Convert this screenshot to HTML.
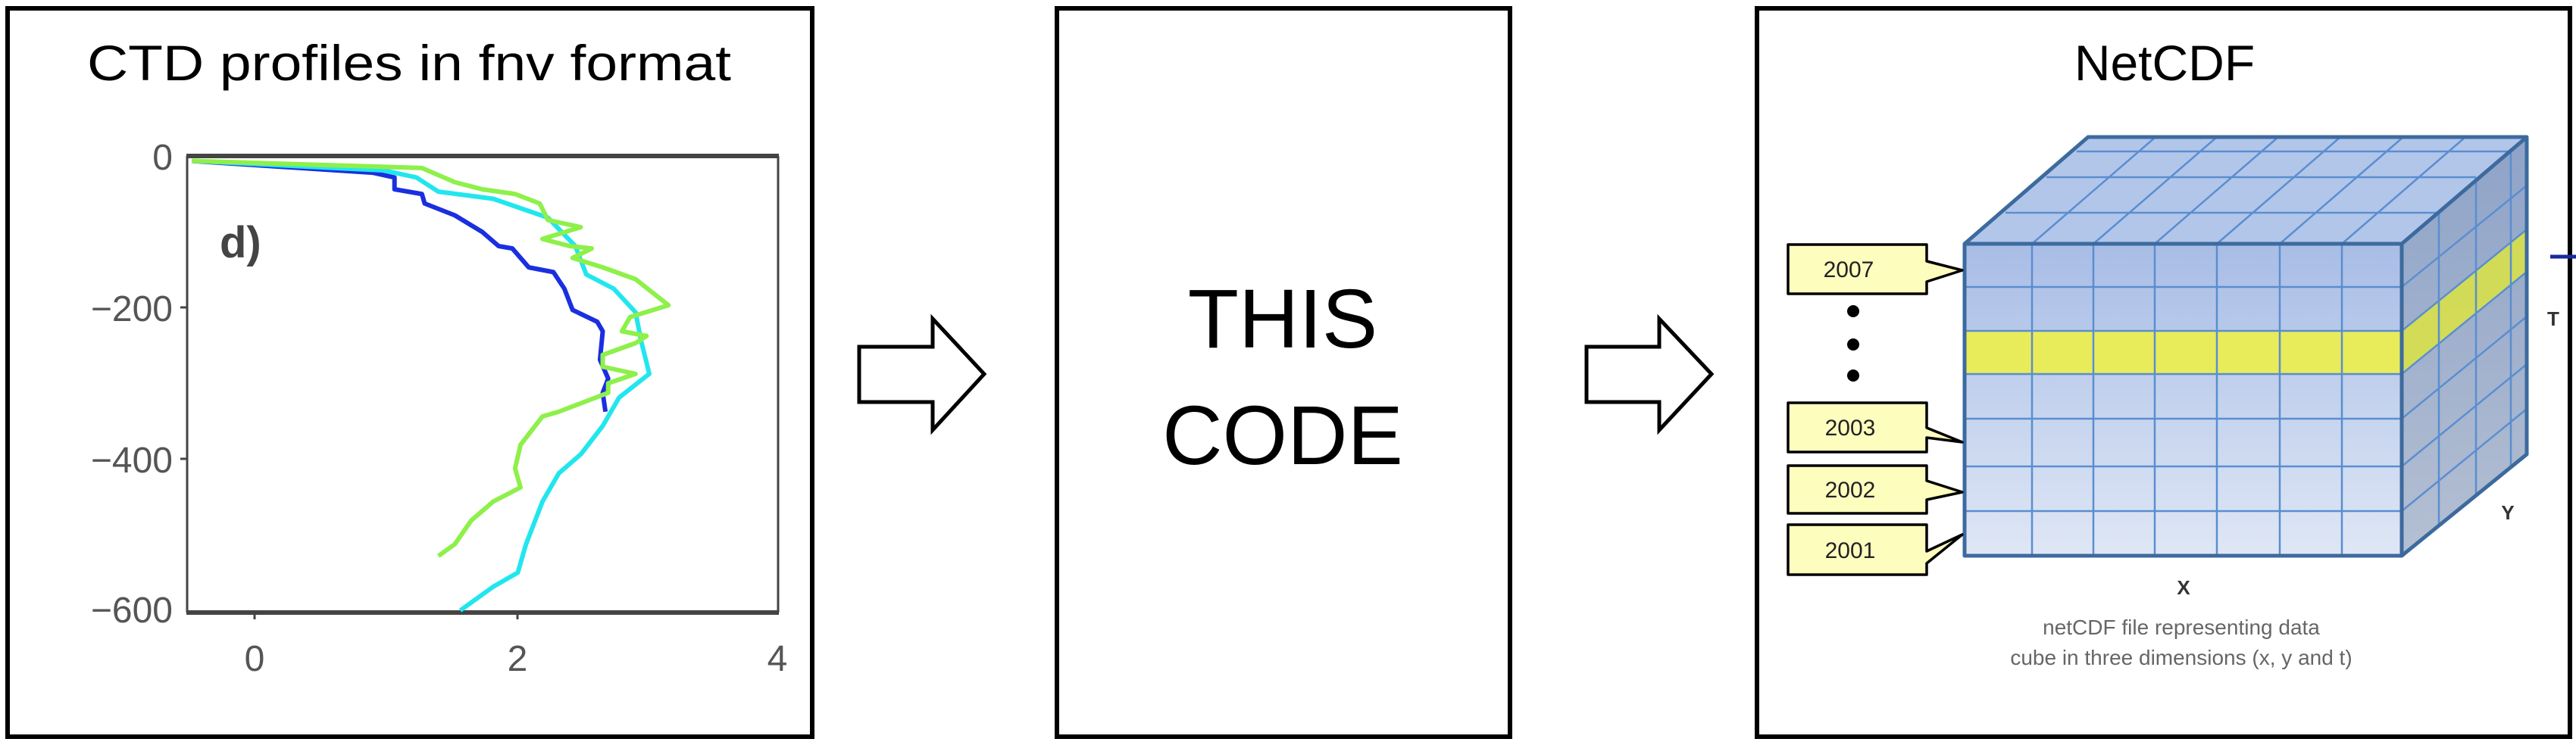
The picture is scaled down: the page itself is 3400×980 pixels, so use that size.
<!DOCTYPE html>
<html><head><meta charset="utf-8"><style>
html,body{margin:0;padding:0;background:#fff;}
svg{display:block;}
</style></head><body>
<svg width="3400" height="980" viewBox="0 0 3400 980" xmlns="http://www.w3.org/2000/svg">
<defs>
<linearGradient id="fg" x1="0" y1="0" x2="0" y2="1"><stop offset="0" stop-color="#a8bde6"/><stop offset="1" stop-color="#dfe7f5"/></linearGradient>
<linearGradient id="rg" x1="0" y1="0" x2="0" y2="1"><stop offset="0" stop-color="#8ea3c8"/><stop offset="1" stop-color="#b4bfd2"/></linearGradient>
</defs>
<rect width="3400" height="980" fill="#fff"/>
<rect x="10" y="11" width="1062" height="962" fill="none" stroke="#000" stroke-width="6"/>
<rect x="1395" y="11" width="598" height="962" fill="none" stroke="#000" stroke-width="6"/>
<rect x="2319" y="11" width="1073" height="962" fill="none" stroke="#000" stroke-width="6"/>
<polygon points="1134,458 1231,458 1231,421 1299,494 1231,568 1231,531 1134,531" fill="#fff" stroke="#000" stroke-width="5"/>
<polygon points="2094,458 2190,458 2190,421 2259,494 2190,568 2190,531 2094,531" fill="#fff" stroke="#000" stroke-width="5"/>
<g font-family="Liberation Sans, sans-serif" fill="#000">
<text x="540" y="106" font-size="66" text-anchor="middle" textLength="850" lengthAdjust="spacingAndGlyphs">CTD profiles in fnv format</text>
<text x="1693" y="459" font-size="110" text-anchor="middle">THIS</text>
<text x="1693" y="613" font-size="110" text-anchor="middle">CODE</text>
<text x="2857" y="106" font-size="66" text-anchor="middle">NetCDF</text>
</g>
<g stroke="#444">
<line x1="246" y1="206" x2="1028" y2="206" stroke-width="6"/>
<line x1="246" y1="809" x2="1028" y2="809" stroke-width="6"/>
<line x1="247" y1="206" x2="247" y2="809" stroke-width="3"/>
<line x1="1027" y1="206" x2="1027" y2="809" stroke-width="3"/>
<line x1="238" y1="406" x2="246" y2="406" stroke-width="3"/>
<line x1="238" y1="606" x2="246" y2="606" stroke-width="3"/>
<line x1="336" y1="809" x2="336" y2="818" stroke-width="3"/>
<line x1="683" y1="809" x2="683" y2="818" stroke-width="3"/>
</g>
<g font-family="Liberation Sans, sans-serif" font-size="48" fill="#555" text-anchor="end">
<text x="228" y="224">0</text><text x="228" y="424">−200</text><text x="228" y="624">−400</text><text x="228" y="822">−600</text>
</g>
<g font-family="Liberation Sans, sans-serif" font-size="48" fill="#555" text-anchor="middle">
<text x="336" y="886">0</text><text x="683" y="886">2</text><text x="1026" y="886">4</text>
</g>
<text x="290" y="340" font-family="Liberation Sans, sans-serif" font-size="58" font-weight="bold" fill="#444">d)</text>
<g transform="scale(0.7232,0.625)" fill="none" stroke-width="6" stroke-linejoin="round">
<polyline vector-effect="non-scaling-stroke" stroke="#1a2fe0" points="350,340 680,365 720,375 720,400 770,410 775,430 830,455 880,490 910,520 935,525 965,565 1010,575 1030,610 1045,655 1090,680 1100,700 1095,760 1110,800 1100,830 1105,870"/>
<polyline vector-effect="non-scaling-stroke" stroke="#22e6ee" points="350,340 700,360 760,375 800,405 900,420 1000,460 1050,520 1070,580 1120,610 1160,660 1170,720 1185,790 1130,840 1100,900 1060,960 1020,1000 990,1060 960,1150 945,1210 900,1240 840,1290"/>
<polyline vector-effect="non-scaling-stroke" stroke="#8ef04a" points="350,340 770,355 830,385 880,400 940,410 985,430 1000,465 1060,480 990,505 1040,520 1080,525 1045,545 1100,565 1160,590 1220,645 1150,670 1135,700 1180,710 1160,725 1100,750 1100,775 1160,790 1110,810 1110,830 1020,870 990,880 950,940 940,990 950,1030 900,1060 860,1100 830,1150 800,1175"/>
</g>
<polygon points="2593,322 2756,181 3335,181 3170,322" fill="#b2c6ea"/>
<polygon points="3170,322 3335,181 3335,600 3170,734" fill="url(#rg)"/>
<rect x="2593" y="322" width="577" height="412" fill="url(#fg)"/>
<rect x="2593" y="437" width="577" height="57" fill="#e8ec5a"/>
<polygon points="3170,437 3335,303 3335,359 3170,494" fill="#d8e04a" opacity="0.9"/>
<g stroke="#5a8ed0" stroke-width="2.5" fill="none">
<line x1="2682" y1="322" x2="2682" y2="734"/><line x1="2763" y1="322" x2="2763" y2="734"/><line x1="2844" y1="322" x2="2844" y2="734"/><line x1="2926" y1="322" x2="2926" y2="734"/><line x1="3009" y1="322" x2="3009" y2="734"/><line x1="3091" y1="322" x2="3091" y2="734"/>
<line x1="2593" y1="379" x2="3170" y2="379"/><line x1="2593" y1="437" x2="3170" y2="437"/><line x1="2593" y1="494" x2="3170" y2="494"/><line x1="2593" y1="553" x2="3170" y2="553"/><line x1="2593" y1="616" x2="3170" y2="616"/><line x1="2593" y1="675" x2="3170" y2="675"/>
<line x1="2682" y1="322" x2="2845" y2="181"/><line x1="2763" y1="322" x2="2926" y2="181"/><line x1="2844" y1="322" x2="3007" y2="181"/><line x1="2926" y1="322" x2="3089" y2="181"/><line x1="3009" y1="322" x2="3172" y2="181"/><line x1="3091" y1="322" x2="3254" y2="181"/>
<line x1="2647" y1="281" x2="3219" y2="281"/><line x1="2701" y1="234" x2="3268" y2="234"/><line x1="2741" y1="200" x2="3314" y2="200"/>
<line x1="3219" y1="281" x2="3219" y2="694"/><line x1="3268" y1="234" x2="3268" y2="655"/><line x1="3314" y1="200" x2="3314" y2="617"/>
<line x1="3170" y1="379" x2="3335" y2="245"/><line x1="3170" y1="437" x2="3335" y2="303"/><line x1="3170" y1="494" x2="3335" y2="359"/><line x1="3170" y1="553" x2="3335" y2="418"/><line x1="3170" y1="616" x2="3335" y2="481"/><line x1="3170" y1="675" x2="3335" y2="540"/>
</g>
<g stroke="#3d6a9e" stroke-width="5" fill="none" stroke-linejoin="round">
<rect x="2593" y="322" width="577" height="412"/>
<polyline points="2593,322 2756,181 3335,181 3335,600 3170,734"/>
<line x1="3170" y1="322" x2="3335" y2="181"/>
</g>
<g stroke="#000" stroke-width="3.5" fill="#fdfdbe" stroke-linejoin="round">
<path d="M2360,323 H2543 V345 L2590,357 L2543,372 V388 H2360 Z"/>
<path d="M2360,532 H2543 V565 L2590,584 L2543,578 V597 H2360 Z"/>
<path d="M2360,615 H2543 V635 L2590,650 L2543,660 V678 H2360 Z"/>
<path d="M2360,693 H2543 V728 L2590,706 L2543,744 V759 H2360 Z"/>
</g>
<g font-family="Liberation Sans, sans-serif" font-size="30" fill="#222" text-anchor="middle">
<text x="2440" y="366">2007</text><text x="2442" y="575">2003</text><text x="2442" y="657">2002</text><text x="2442" y="737">2001</text>
</g>
<g fill="#000"><circle cx="2446" cy="411" r="8"/><circle cx="2446" cy="455" r="8"/><circle cx="2446" cy="496" r="8"/></g>
<g font-family="Liberation Sans, sans-serif" font-size="26" font-weight="bold" fill="#333" text-anchor="middle">
<text x="2882" y="785">X</text><text x="3310" y="686">Y</text><text x="3370" y="430">T</text>
</g>
<line x1="3366" y1="339" x2="3400" y2="339" stroke="#1a2a9a" stroke-width="5"/>
<g font-family="Liberation Sans, sans-serif" font-size="28" fill="#666" text-anchor="middle">
<text x="2879" y="838">netCDF file representing data</text>
<text x="2879" y="878">cube in three dimensions (x, y and t)</text>
</g>
</svg>
</body></html>
